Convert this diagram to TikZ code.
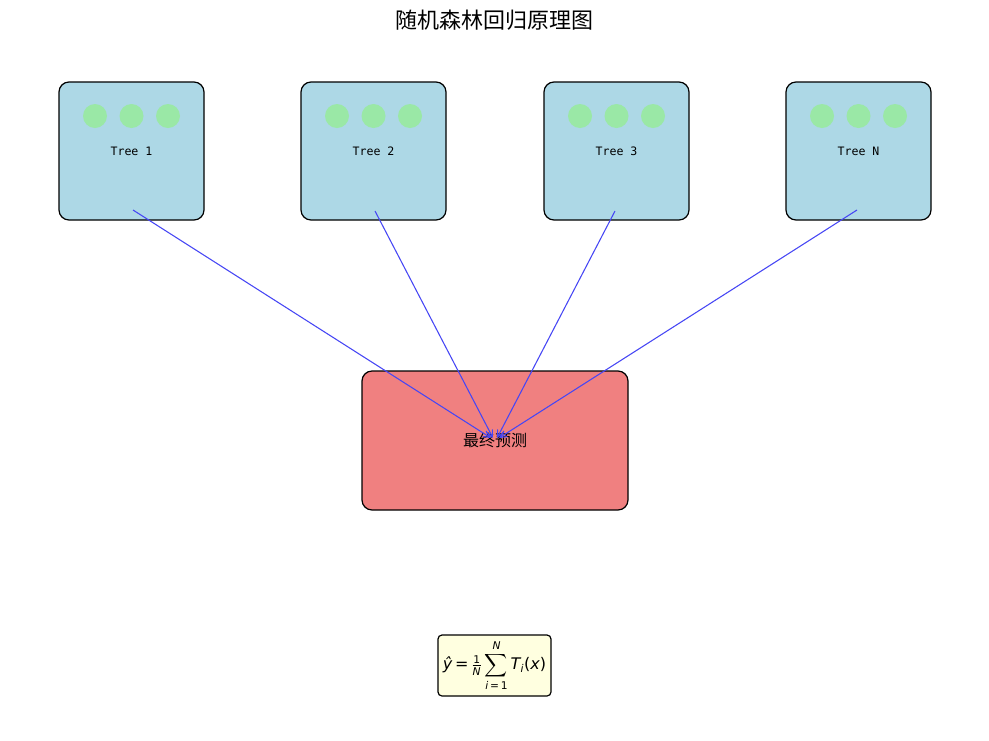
\documentclass[tikz,border=0pt]{standalone}
\usepackage{amsmath}
\usepackage{fontspec}
\setmonofont{DejaVu Sans Mono}
\newfontfamily\cjk{Noto Sans CJK SC}
\newfontfamily\dv{DejaVu Sans}
\usetikzlibrary{arrows.meta,calc}
\definecolor{treeblue}{HTML}{ADD8E6}
\definecolor{leafgreen}{RGB}{154,232,166}
\definecolor{predred}{HTML}{F08080}
\definecolor{formulayellow}{HTML}{FFFFE0}
\definecolor{arrowblue}{RGB}{70,70,245}
\newcommand{\dvi}[1]{\text{\dv\itshape #1}}
\newcommand{\dvr}[1]{\text{\dv #1}}
\tikzset{
  treebox/.style={draw=black, line width=0.9pt, fill=treeblue, rounded corners=7.5pt,
    minimum width=108.75pt, minimum height=103.5pt, inner sep=0pt,
    font=\ttfamily\fontsize{8.7}{10}\selectfont},
  leaf/.style={fill=leafgreen, draw=none, circle, minimum size=18pt, inner sep=0pt},
  predbox/.style={draw=black, line width=0.9pt, fill=predred, rounded corners=7.5pt,
    minimum width=199.5pt, minimum height=104.25pt, inner sep=0pt,
    font=\cjk\fontsize{12}{14}\selectfont},
  formulabox/.style={draw=black, line width=0.9pt, fill=formulayellow, rounded corners=3pt,
    minimum width=84.75pt, minimum height=45.75pt, inner sep=2pt, font=\fontsize{12}{14}\selectfont},
  vote/.style={draw=arrowblue, line width=0.8pt, -{Straight Barb[length=5pt,width=5pt]}},
  titletext/.style={font=\cjk\fontsize{16.5}{19}\selectfont, inner sep=0pt}
}
\begin{document}
\begin{tikzpicture}[x=0.75pt, y=-0.75pt]
\useasboundingbox[fill=white] (0,0) rectangle (989,740);
\node[titletext] (title) at (494.5,20) {随机森林回归原理图};
\foreach \i/\cx/\lab in {1/131.5/Tree 1, 2/373.5/Tree 2, 3/616.5/Tree 3, 4/858.5/Tree N}{
  \node[treebox] (t\i) at (\cx,151) {\lab};
  \node[leaf] (l\i a) at (\cx-36.5,116) {};
  \node[leaf] (l\i b) at (\cx,116) {};
  \node[leaf] (l\i c) at (\cx+36.5,116) {};
}
\node[predbox] (pred) at (495,440.5) {\raisebox{-1pt}{最终预测}};
\node[formulabox] (formula) at (494.5,665.5)
  {$\dvi{ŷ}\dvr{\,=\,}\frac{\dvr{1}}{\dvi{N}}\displaystyle\sum_{\dvi{i}\dvr{\,=\,1}}^{\dvi{N}}\dvi{T}_{\dvi{i}}\dvr{(}\dvi{x}\dvr{)}$};
\coordinate (s1) at (133,210);
\coordinate (s2) at (375,211);
\coordinate (s3) at (615,211);
\coordinate (s4) at (857,210);
\coordinate (e1) at (491,438);
\coordinate (e2) at (493,438);
\coordinate (e3) at (497,438);
\coordinate (e4) at (499,438);
\foreach \i in {1,...,4}{
  \draw[vote] (s\i) -- (e\i);
}
\end{tikzpicture}
\end{document}
